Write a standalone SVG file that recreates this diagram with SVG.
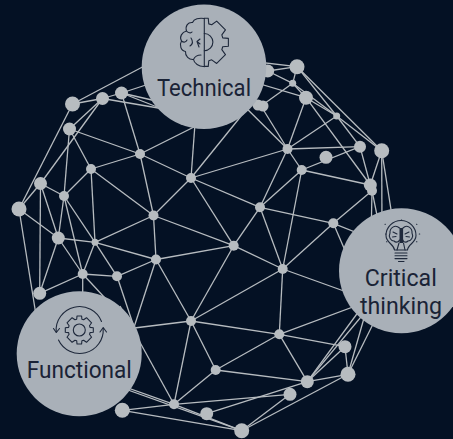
<svg xmlns="http://www.w3.org/2000/svg" xmlns:xlink="http://www.w3.org/1999/xlink" width="453" height="439" viewBox="0 0 453 439">
<style>
.bg{fill:#041124}
.c line{stroke:#b7bcc0;stroke-width:1.3;fill:none}
.n{fill:#b7bcc0}
.b{fill:#a9b0b8}
.t{font-family:Roboto,"Noto Sans","Liberation Sans",sans-serif;font-size:24px;fill:#1a2336;text-anchor:middle}
.i{fill:none;stroke:#1e283b;stroke-width:1.1;stroke-linecap:round;stroke-linejoin:round}
</style>
<defs>
<g id="gear">
<path d="M-4.3,-10.2 L-2.6,-10.7 L-2.3,-14 L2.3,-14 L2.6,-10.7 L4.3,-10.2 L7.2,-12.3 L12.3,-7.2 L10.2,-4.3 L10.7,-2.6 L14,-2.3 L14,2.3 L10.7,2.6 L10.2,4.3 L12.3,7.2 L7.2,12.3 L4.3,10.2 L2.6,10.7 L2.3,14 L-2.3,14 L-2.6,10.7 L-4.3,10.2 L-7.2,12.3 L-12.3,7.2 L-10.2,4.3 L-10.7,2.6 L-14,2.3 L-14,-2.3 L-10.7,-2.6 L-10.2,-4.3 L-12.3,-7.2 L-7.2,-12.3 Z"/>
</g>
<clipPath id="right"><rect x="204.3" y="10" width="40" height="64"/></clipPath>
</defs>
<rect class="bg" width="453" height="439"/>
<g id="connectors" class="c">
<line x1="72.5" y1="104" x2="150" y2="63"/><line x1="72.5" y1="104" x2="102.5" y2="98.5"/><line x1="72.5" y1="104" x2="19" y2="209"/>
<line x1="102.5" y1="98.5" x2="121.5" y2="93"/><line x1="102.5" y1="98.5" x2="69.5" y2="129"/><line x1="102.5" y1="98.5" x2="40.5" y2="183.5"/><line x1="102.5" y1="98.5" x2="170" y2="110"/>
<line x1="121.5" y1="93" x2="155" y2="82"/><line x1="121.5" y1="93" x2="165" y2="103"/><line x1="121.5" y1="93" x2="170" y2="112"/><line x1="121.5" y1="93" x2="140" y2="154"/>
<line x1="69.5" y1="129" x2="64" y2="196"/><line x1="69.5" y1="129" x2="91" y2="169"/><line x1="69.5" y1="129" x2="140" y2="154"/>
<line x1="140" y1="154" x2="91" y2="169"/><line x1="140" y1="154" x2="191" y2="178"/><line x1="140" y1="154" x2="200" y2="124"/><line x1="140" y1="154" x2="153.5" y2="215.5"/>
<line x1="91" y1="169" x2="64" y2="196"/><line x1="91" y1="169" x2="153.5" y2="215.5"/><line x1="91" y1="169" x2="95" y2="242.3"/>
<line x1="191" y1="178" x2="196" y2="110"/><line x1="191" y1="178" x2="250" y2="105"/><line x1="191" y1="178" x2="287.5" y2="149"/><line x1="191" y1="178" x2="260" y2="207.3"/><line x1="191" y1="178" x2="233.7" y2="245.7"/><line x1="191" y1="178" x2="153.5" y2="215.5"/>
<line x1="40.5" y1="183.5" x2="19" y2="209"/><line x1="40.5" y1="183.5" x2="64" y2="196"/><line x1="40.5" y1="183.5" x2="58.3" y2="238"/><line x1="40.5" y1="183.5" x2="39.7" y2="293.3"/>
<line x1="19" y1="209" x2="58.3" y2="238"/><line x1="19" y1="209" x2="40" y2="340"/>
<line x1="64" y1="196" x2="58.3" y2="238"/><line x1="64" y1="196" x2="82.7" y2="274"/><line x1="64" y1="196" x2="95" y2="242.3"/>
<line x1="95" y1="242.3" x2="153.5" y2="215.5"/><line x1="95" y1="242.3" x2="156" y2="259.5"/><line x1="95" y1="242.3" x2="82.7" y2="274"/><line x1="95" y1="242.3" x2="117" y2="276.3"/><line x1="95" y1="242.3" x2="58.3" y2="238"/>
<line x1="58.3" y1="238" x2="82.7" y2="274"/><line x1="58.3" y1="238" x2="39.7" y2="293.3"/>
<line x1="82.7" y1="274" x2="117" y2="276.3"/><line x1="82.7" y1="274" x2="39.7" y2="293.3"/><line x1="82.7" y1="274" x2="82.7" y2="310"/><line x1="82.7" y1="274" x2="130" y2="325"/>
<line x1="117" y1="276.3" x2="156" y2="259.5"/><line x1="117" y1="276.3" x2="140" y2="345"/>
<line x1="156" y1="259.5" x2="153.5" y2="215.5"/><line x1="156" y1="259.5" x2="233.7" y2="245.7"/><line x1="156" y1="259.5" x2="125" y2="355"/><line x1="156" y1="259.5" x2="191" y2="321"/>
<line x1="153.5" y1="215.5" x2="233.7" y2="245.7"/>
<line x1="233.7" y1="245.7" x2="260" y2="207.3"/><line x1="233.7" y1="245.7" x2="282.7" y2="269"/><line x1="233.7" y1="245.7" x2="191" y2="321"/>
<line x1="260" y1="207.3" x2="282.7" y2="269"/><line x1="260" y1="207.3" x2="287.5" y2="149"/><line x1="260" y1="207.3" x2="301.7" y2="170"/><line x1="260" y1="207.3" x2="333.3" y2="223.3"/>
<line x1="282.7" y1="269" x2="333.3" y2="223.3"/><line x1="282.7" y1="269" x2="380" y2="304"/><line x1="282.7" y1="269" x2="279.3" y2="334.3"/><line x1="282.7" y1="269" x2="191" y2="321"/>
<line x1="240" y1="60" x2="297" y2="66.7"/><line x1="267.7" y1="71" x2="297" y2="66.7"/><line x1="267.7" y1="71" x2="292.7" y2="83.3"/><line x1="240" y1="78" x2="306" y2="97.7"/><line x1="230" y1="92" x2="287.5" y2="149"/>
<line x1="261" y1="106" x2="292.7" y2="83.3"/><line x1="261" y1="106" x2="287.5" y2="149"/>
<line x1="297" y1="66.7" x2="292.7" y2="83.3"/><line x1="297" y1="66.7" x2="336.7" y2="116"/><line x1="297" y1="66.7" x2="381.7" y2="150.7"/>
<line x1="292.7" y1="83.3" x2="306" y2="97.7"/><line x1="292.7" y1="83.3" x2="336.7" y2="116"/>
<line x1="306" y1="97.7" x2="336.7" y2="116"/><line x1="306" y1="97.7" x2="287.5" y2="149"/><line x1="306" y1="97.7" x2="370.3" y2="185"/>
<line x1="336.7" y1="116" x2="287.5" y2="149"/><line x1="336.7" y1="116" x2="360" y2="146.7"/><line x1="336.7" y1="116" x2="381.7" y2="150.7"/>
<line x1="287.5" y1="149" x2="360" y2="146.7"/><line x1="287.5" y1="149" x2="301.7" y2="170"/>
<line x1="301.7" y1="170" x2="360" y2="146.7"/><line x1="301.7" y1="170" x2="370.3" y2="185"/><line x1="301.7" y1="170" x2="282.7" y2="269"/>
<line x1="333.3" y1="223.3" x2="372" y2="190.7"/>
<line x1="370.3" y1="185" x2="360" y2="146.7"/><line x1="370.3" y1="185" x2="381.7" y2="150.7"/>
<line x1="381.7" y1="150.7" x2="382" y2="235"/><line x1="381.7" y1="150.7" x2="395" y2="235"/><line x1="372" y1="190.7" x2="371" y2="240"/><line x1="372" y1="190.7" x2="382" y2="240"/>
<line x1="333.3" y1="223.3" x2="350" y2="262"/><line x1="333.3" y1="223.3" x2="375" y2="240"/>
<line x1="279.3" y1="334.3" x2="385" y2="295"/><line x1="279.3" y1="334.3" x2="345" y2="346.7"/><line x1="279.3" y1="334.3" x2="307.3" y2="381.7"/><line x1="279.3" y1="334.3" x2="191" y2="321"/><line x1="279.3" y1="334.3" x2="215.7" y2="370"/>
<line x1="345" y1="346.7" x2="348" y2="374.3"/><line x1="345" y1="346.7" x2="307.3" y2="381.7"/>
<line x1="307.3" y1="381.7" x2="348" y2="374.3"/><line x1="307.3" y1="381.7" x2="370" y2="296"/><line x1="307.3" y1="381.7" x2="375" y2="300"/>
<line x1="348" y1="374.3" x2="372" y2="290"/><line x1="348" y1="374.3" x2="390" y2="290"/><line x1="348" y1="374.3" x2="241.7" y2="430.7"/>
<line x1="307.3" y1="381.7" x2="215.7" y2="370"/><line x1="307.3" y1="381.7" x2="206.7" y2="413.7"/>
<line x1="290" y1="394.3" x2="174" y2="404.3"/><line x1="290" y1="394.3" x2="241.7" y2="430.7"/>
<line x1="191" y1="321" x2="110" y2="331"/><line x1="191" y1="321" x2="174" y2="404.3"/><line x1="191" y1="321" x2="215.7" y2="370"/>
<line x1="215.7" y1="370" x2="174" y2="404.3"/>
<line x1="120" y1="306" x2="174" y2="404.3"/><line x1="100" y1="378" x2="174" y2="404.3"/><line x1="100" y1="380" x2="241.7" y2="430.7"/>
<line x1="174" y1="404.3" x2="241.7" y2="430.7"/><line x1="122.3" y1="410.3" x2="174" y2="404.3"/><line x1="122.3" y1="410.3" x2="241.7" y2="430.7"/>
</g>
<g id="dots">
<g id="n1"><circle class="n" cx="72.5" cy="104" r="7.5"/></g><g id="n2"><circle class="n" cx="102.5" cy="98.5" r="6.5"/></g><g id="n3"><circle class="n" cx="121.5" cy="93" r="6.5"/></g><g id="n4"><circle class="n" cx="69.5" cy="129" r="6.5"/></g>
<g id="n5"><circle class="n" cx="140" cy="154" r="5"/></g><g id="n6"><circle class="n" cx="91" cy="169" r="5"/></g><g id="n7"><circle class="n" cx="191" cy="178" r="5"/></g><g id="n8"><circle class="n" cx="40.5" cy="183.5" r="6.5"/></g>
<g id="n9"><circle class="n" cx="64" cy="196" r="5"/></g><g id="n10"><circle class="n" cx="19" cy="209" r="7.5"/></g><g id="n11"><circle class="n" cx="153.5" cy="215.5" r="5"/></g><g id="n12"><circle class="n" cx="58.3" cy="238" r="6.5"/></g>
<g id="n13"><circle class="n" cx="95" cy="242.3" r="3.5"/></g><g id="n14"><circle class="n" cx="82.7" cy="274" r="5"/></g><g id="n15"><circle class="n" cx="117" cy="276.3" r="5"/></g><g id="n16"><circle class="n" cx="39.7" cy="293.3" r="6.5"/></g>
<g id="n17"><circle class="n" cx="156" cy="259.5" r="5"/></g><g id="n18"><circle class="n" cx="233.7" cy="245.7" r="5"/></g><g id="n19"><circle class="n" cx="260" cy="207.3" r="5"/></g><g id="n20"><circle class="n" cx="282.7" cy="269" r="5"/></g>
<g id="n21"><circle class="n" cx="287.5" cy="149" r="5"/></g><g id="n22"><circle class="n" cx="301.7" cy="170" r="5"/></g><g id="n23"><circle class="n" cx="297" cy="66.7" r="7.5"/></g><g id="n24"><circle class="n" cx="267.7" cy="71" r="6.5"/></g>
<g id="n25"><circle class="n" cx="292.7" cy="83.3" r="3.5"/></g><g id="n26"><circle class="n" cx="306" cy="97.7" r="7"/></g><g id="n27"><circle class="n" cx="258" cy="105" r="5.5"/><circle class="n" cx="263" cy="106" r="5.5"/></g><g id="n28"><circle class="n" cx="336.7" cy="116" r="3.5"/></g>
<g id="n29"><circle class="n" cx="360" cy="146.7" r="6"/></g><g id="n30"><circle class="n" cx="381.7" cy="150.7" r="7.5"/></g><g id="n31"><circle class="n" cx="326" cy="157.3" r="6.5"/></g><g id="n32"><circle class="n" cx="370.3" cy="185" r="6.5"/></g>
<g id="n33"><circle class="n" cx="372" cy="190.7" r="5"/></g><g id="n34"><circle class="n" cx="333.3" cy="223.3" r="5"/></g><g id="n35"><circle class="n" cx="279.3" cy="334.3" r="5"/></g><g id="n36"><circle class="n" cx="345" cy="346.7" r="6.5"/></g>
<g id="n37"><circle class="n" cx="348" cy="374.3" r="7.5"/></g><g id="n38"><circle class="n" cx="307.3" cy="381.7" r="6.5"/></g><g id="n39"><circle class="n" cx="290" cy="394.3" r="6.5"/></g><g id="n40"><circle class="n" cx="241.7" cy="430.7" r="7.5"/></g>
<g id="n41"><circle class="n" cx="191" cy="321" r="5"/></g><g id="n42"><circle class="n" cx="215.7" cy="370" r="5"/></g><g id="n43"><circle class="n" cx="174" cy="404.3" r="5"/></g><g id="n44"><circle class="n" cx="206.7" cy="413.7" r="6.5"/></g><g id="n45"><circle class="n" cx="122.3" cy="410.3" r="7.5"/></g>
</g>
<g id="technical">
<circle class="b" cx="204" cy="66.8" r="62.3"/>
<g class="i">
<path d="M204.3 18.3V66.7"/>
<g clip-path="url(#right)"><use xlink:href="#gear" href="#gear" transform="translate(204.3 42.3) scale(1.72)" stroke-width="0.64"/></g>
<path d="M204.3 33.5a8.6 8.6 0 0 1 0 17.2"/>
<path d="M204.3 18.5C199 17.5 194 19 192.5 22.5C188 22 185 26 186.5 31C182 32 179 37 181.5 41C179 45 181 51 185.5 51.5C185 56 189 60 193.5 59.5C194 63 199 67 204.3 66.5"/>
<path d="M186.5 31C188 33 191 33.5 192 32M181.5 41C184 43 186 42 187 40M193.5 59.5C195 56 199 55 201 55M191 38C193 41 193 44 190 46M200 39L197 41.5L200 44M197 41.5L199 47"/>
</g>
<text class="t" x="204" y="95.5" textLength="94" lengthAdjust="spacingAndGlyphs">Technical</text>
</g>
<g id="functional">
<circle class="b" cx="79.2" cy="353.7" r="62.5"/>
<g class="i">
<use xlink:href="#gear" href="#gear" transform="translate(79.3 330)"/>
<circle cx="79.3" cy="330" r="6"/>
<path d="M101.5 321.5A23.5 23.5 0 0 0 56.2 332"/>
<path d="M53.5 328.5L56.3 332.5L59.5 328.5"/>
<path d="M58.5 340A23.5 23.5 0 0 0 103.2 328.5"/>
<path d="M100 332L103.2 327.5L106.5 332"/>
</g>
<text class="t" x="79.3" y="378.3" textLength="105" lengthAdjust="spacingAndGlyphs">Functional</text>
</g>
<g id="critical-thinking">
<circle class="b" cx="401.5" cy="270.8" r="62.5"/>
<g class="i">
<path d="M394.5 250C394 244 386 243 386 235.5A15 15 0 0 1 416 235.5C416 243 408 244 407.5 250Z"/>
<path d="M395 253H407M395 255.8H407M395 258.6H407M398.5 261.5H404"/>
<path d="M399.5 228C395 224 389.5 228 390 233C388 237 391 241 394 241C396 243 399 242 399.5 240M403 228C407 224 412.5 228 412 233C414 237 411 241 408 241C406 243 403 242 403 240"/>
<path d="M393 232L397 234M392.5 237L396 236.5M409 232L405 234M409.5 237L406 236.5M399 243L397 250M403.5 243L405 250"/>
<path d="M385 224.3h.4M385.5 234h.4M386.5 241.7h.4M401.3 220h.4M416.5 224.3h.4M419.3 234h.4M416.5 241.7h.4"/>
</g>
<rect x="399.5" y="228" width="3.6" height="15" fill="#1e283b"/>
<text class="t" x="400.8" y="285.7" textLength="72" lengthAdjust="spacingAndGlyphs">Critical</text>
<text class="t" x="401" y="314.3" textLength="82" lengthAdjust="spacingAndGlyphs">thinking</text>
</g>
</svg>
